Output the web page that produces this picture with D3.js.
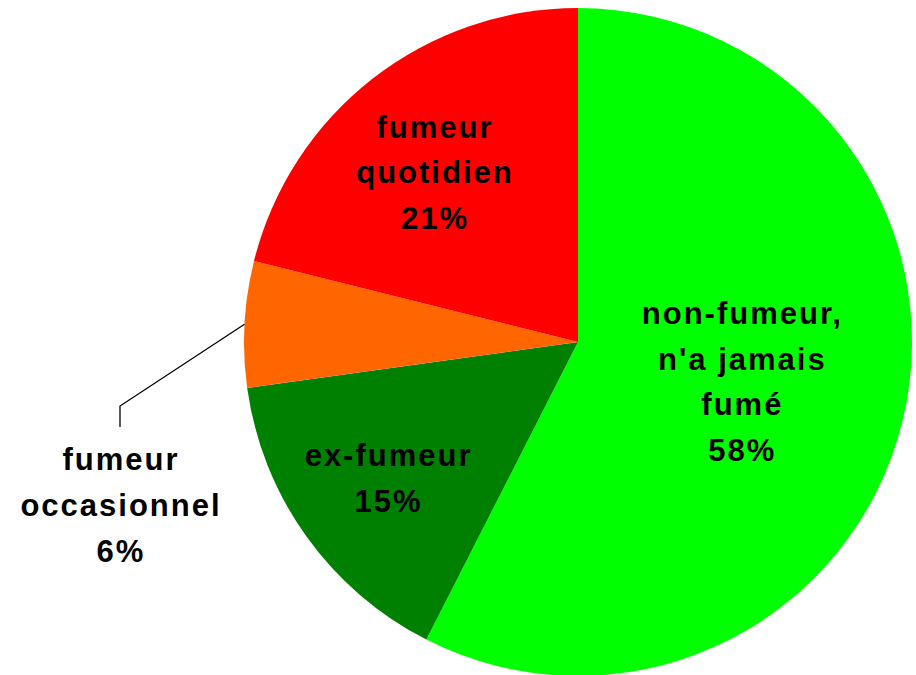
<!DOCTYPE html>
<html>
<head>
<meta charset="utf-8">
<script src="https://cdn.jsdelivr.net/npm/d3@7"></script>
<style>
  body { margin: 0; background: #fff; }
  svg { display: block; }
  text { font-family: "Liberation Sans", Arial, sans-serif; font-weight: bold; fill: #000; }
</style>
</head>
<body>
<svg id="chart" width="916" height="675"></svg>
<script>
// slices, clockwise from 12 o'clock
const categories = ["non-fumeur, n'a jamais fumé", "ex-fumeur", "fumeur occasionnel", "fumeur quotidien"];
const values = [57.5, 15.3, 6.1, 21.1];
const labelLines = [["non-fumeur,", "n'a jamais", "fumé"], ["ex-fumeur"], ["fumeur", "occasionnel"], ["fumeur", "quotidien"]];
const colors = ["#00ff00", "#008000", "#ff6600", "#ff0000"];

const W = 916, H = 675;
const CX = 578, CY = 342, R = 334;
const FONT = 31, LS = 2, LINE_H = 45.7;
// label distance from centre as a fraction of the radius (null = outside with leader)
const labelRadius = [0.503, 0.70, null, 0.667];
const labelNudge = [0, 0, 0, -2.3]; // degrees

const svg = d3.select('#chart');
const g = svg.append('g').attr('transform', `translate(${CX},${CY})`);

const pie = d3.pie().sort(null).value(d => d)
  .startAngle(0).endAngle(2 * Math.PI);
const arcs = pie(values);

const arc = d3.arc().innerRadius(0).outerRadius(R);

g.selectAll('path.slice')
  .data(arcs)
  .join('path')
  .attr('class', 'slice')
  .attr('d', arc)
  .attr('fill', (d, i) => colors[i]);

const fmt = v => Math.round(v) + '%';

const drawLabel = (lines, x, y) => {
  const n = lines.length;
  const t = g.append('text')
    .attr('text-anchor', 'middle')
    .style('font-size', FONT + 'px')
    .style('letter-spacing', LS + 'px');
  lines.forEach((line, k) => {
    t.append('tspan')
      .attr('x', x + LS / 2)
      .attr('y', y + (k - (n - 1) / 2) * LINE_H + FONT * 0.36)
      .text(line);
  });
};

arcs.forEach((d, i) => {
  const mid = (d.startAngle + d.endAngle) / 2 + labelNudge[i] * Math.PI / 180;
  const lines = labelLines[i].concat(fmt(values[i]));
  if (labelRadius[i] !== null) {
    const r = labelRadius[i] * R;
    drawLabel(lines, Math.sin(mid) * r, -Math.cos(mid) * r);
  } else {
    // outside label with an elbow leader line
    const p0 = [Math.sin(mid) * R, -Math.cos(mid) * R];
    const elbow = [120 - CX, 406 - CY];
    const end = [elbow[0], 427 - CY];
    g.append('path')
      .attr('d', d3.line()([p0, elbow, end]))
      .attr('fill', 'none')
      .attr('stroke', '#000')
      .attr('stroke-width', 1.3);
    drawLabel(lines, elbow[0], 516 - CY - FONT * 0.36);
  }
});
</script>
</body>
</html>
